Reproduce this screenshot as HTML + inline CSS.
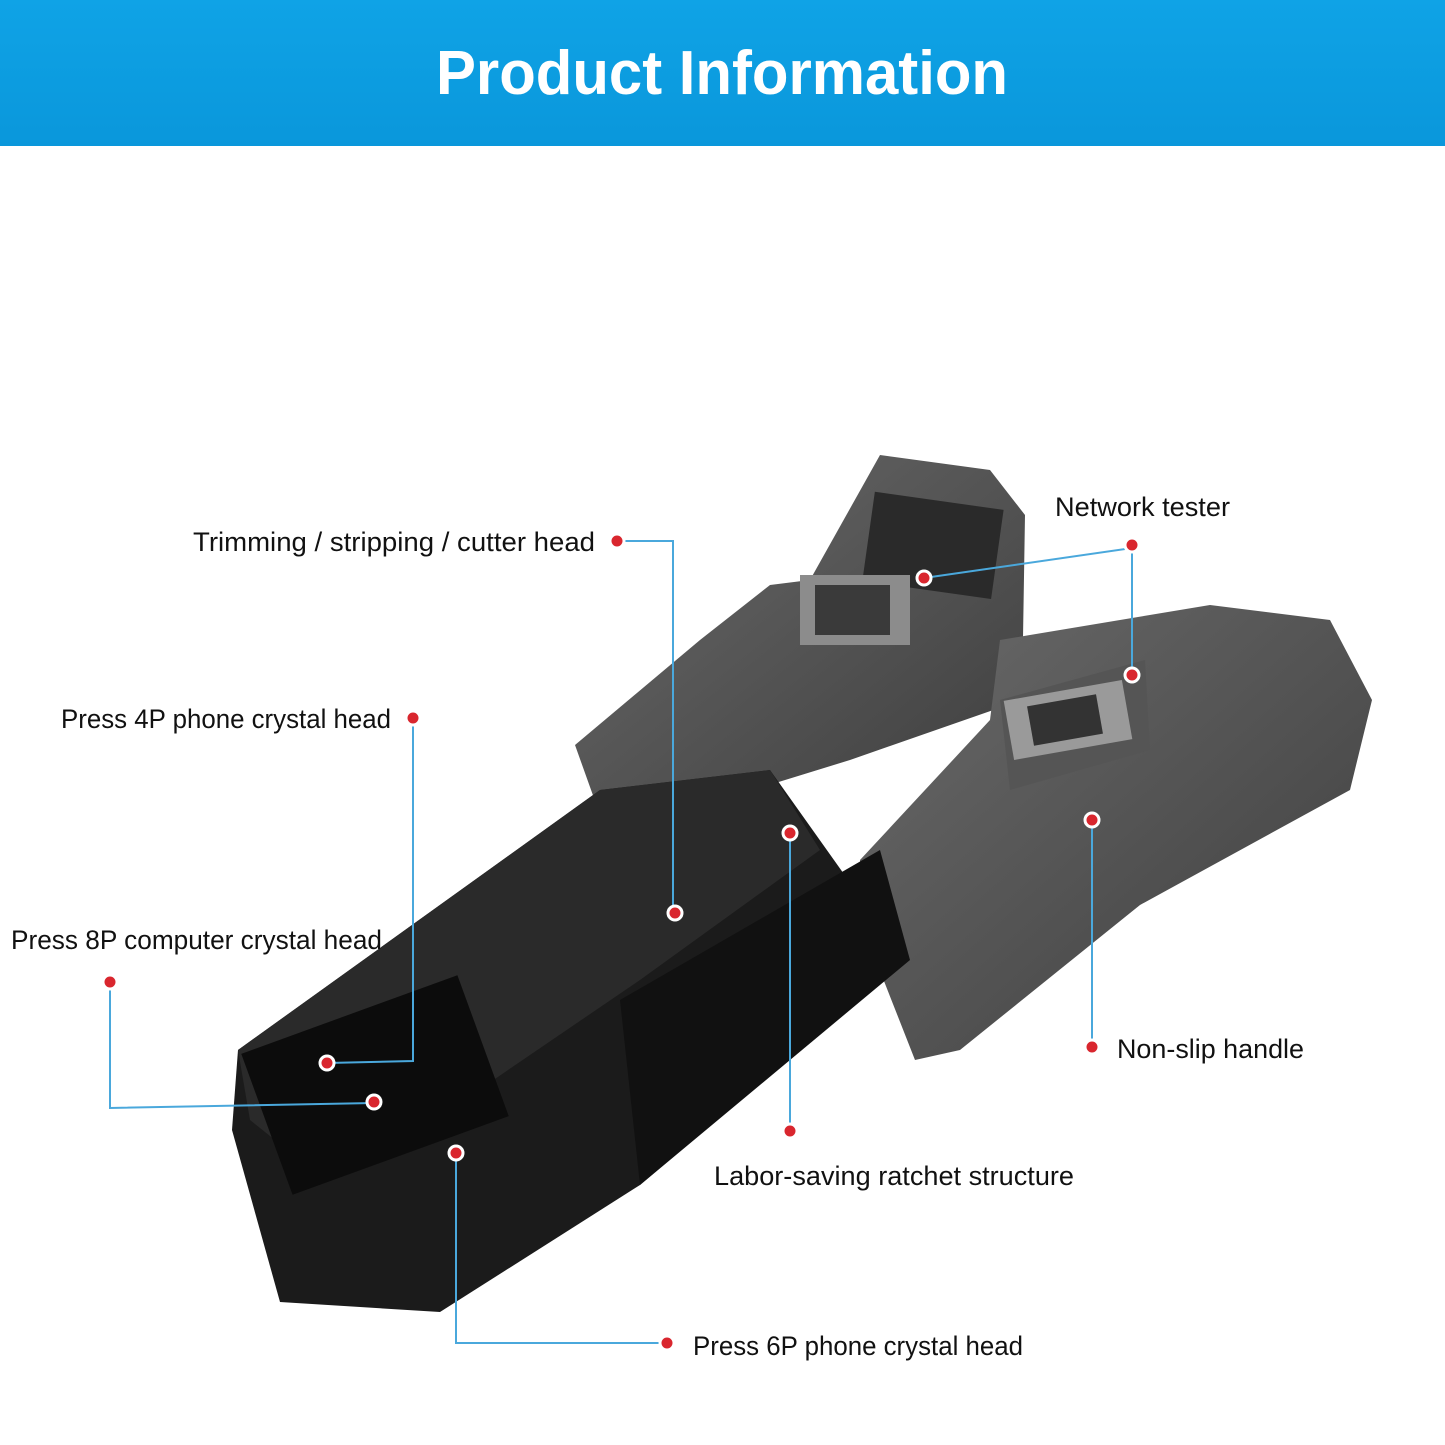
<!DOCTYPE html>
<html><head><meta charset="utf-8"><style>
html,body{margin:0;padding:0;background:#fff;}
svg{display:block}
</style></head><body>
<svg width="1445" height="1445" viewBox="0 0 1445 1445" xmlns="http://www.w3.org/2000/svg">
<defs>
<linearGradient id="hdr" x1="0" y1="0" x2="0" y2="1"><stop offset="0" stop-color="#0fa3e6"/><stop offset="1" stop-color="#0a97db"/></linearGradient>
<linearGradient id="gry" x1="0" y1="0" x2="1" y2="1"><stop offset="0" stop-color="#6a6a6a"/><stop offset="1" stop-color="#3e3e3e"/></linearGradient>
</defs>
<rect width="1445" height="1445" fill="#fff"/>
<rect width="1445" height="146" fill="url(#hdr)"/>
<text x="722" y="94" text-anchor="middle" font-family="Liberation Sans, sans-serif" font-weight="bold" font-size="62" fill="#fff" textLength="572" lengthAdjust="spacingAndGlyphs">Product Information</text>

<!-- upper handle -->
<polygon points="575,745 700,640 770,585 810,580 880,455 990,470 1025,515 1022,700 850,760 720,800 600,815" fill="url(#gry)"/>
<rect x="868" y="500" width="130" height="90" fill="#2a2a2a" transform="rotate(8 930 545)"/>
<rect x="800" y="575" width="110" height="70" fill="#8c8c8c"/>
<rect x="815" y="585" width="75" height="50" fill="#3a3a3a"/>
<!-- right handle -->
<polygon points="860,860 990,720 1000,640 1210,605 1330,620 1372,700 1350,790 1140,905 960,1050 915,1060 860,920" fill="url(#gry)"/>
<polygon points="1000,700 1145,660 1150,750 1010,790" fill="#555"/>
<rect x="1008" y="690" width="120" height="60" fill="#9a9a9a" transform="rotate(-10 1068 720)"/>
<rect x="1030" y="700" width="70" height="40" fill="#333" transform="rotate(-10 1065 720)"/>
<!-- main body -->
<polygon points="238,1050 600,790 770,770 905,960 640,1185 440,1312 280,1302 232,1130" fill="#1b1b1b"/>
<polygon points="238,1050 600,790 770,770 820,850 640,980 420,1130 300,1160 250,1120" fill="#2a2a2a"/>
<polygon points="620,1000 880,850 910,960 640,1185" fill="#111"/>
<rect x="260" y="1010" width="230" height="150" fill="#0c0c0c" transform="rotate(-20 375 1085)"/>

<g font-family="Liberation Sans Narrow, Liberation Sans, sans-serif" font-size="27" fill="#111">
<text x="193" y="551" textLength="402" lengthAdjust="spacingAndGlyphs">Trimming / stripping / cutter head</text>
<text x="1055" y="516" textLength="175" lengthAdjust="spacingAndGlyphs">Network tester</text>
<text x="61" y="728" textLength="330" lengthAdjust="spacingAndGlyphs">Press 4P phone crystal head</text>
<text x="11" y="949" textLength="371" lengthAdjust="spacingAndGlyphs">Press 8P computer crystal head</text>
<text x="1117" y="1058" textLength="187" lengthAdjust="spacingAndGlyphs">Non-slip handle</text>
<text x="714" y="1185" textLength="360" lengthAdjust="spacingAndGlyphs">Labor-saving ratchet structure</text>
<text x="693" y="1355" textLength="330" lengthAdjust="spacingAndGlyphs">Press 6P phone crystal head</text>
</g>

<g stroke="#4aa8dc" stroke-width="2" fill="none">
<polyline points="617,541 673,541 673,913"/>
<polyline points="924,578 1132,548 1132,675"/>
<polyline points="413,718 413,1061 327,1063"/>
<polyline points="110,982 110,1108 374,1103"/>
<polyline points="1092,1047 1092,820"/>
<polyline points="790,1131 790,833"/>
<polyline points="667,1343 456,1343 456,1153"/>
</g>
<g fill="#d9262e" stroke="#fff" stroke-width="3">
<circle cx="617" cy="541" r="7"/><circle cx="675" cy="913" r="7"/>
<circle cx="1132" cy="545" r="7"/><circle cx="924" cy="578" r="7"/><circle cx="1132" cy="675" r="7"/>
<circle cx="413" cy="718" r="7"/><circle cx="327" cy="1063" r="7"/>
<circle cx="110" cy="982" r="7"/><circle cx="374" cy="1102" r="7"/>
<circle cx="1092" cy="1047" r="7"/><circle cx="1092" cy="820" r="7"/>
<circle cx="790" cy="1131" r="7"/><circle cx="790" cy="833" r="7"/>
<circle cx="667" cy="1343" r="7"/><circle cx="456" cy="1153" r="7"/>
</g>
</svg>
</body></html>
